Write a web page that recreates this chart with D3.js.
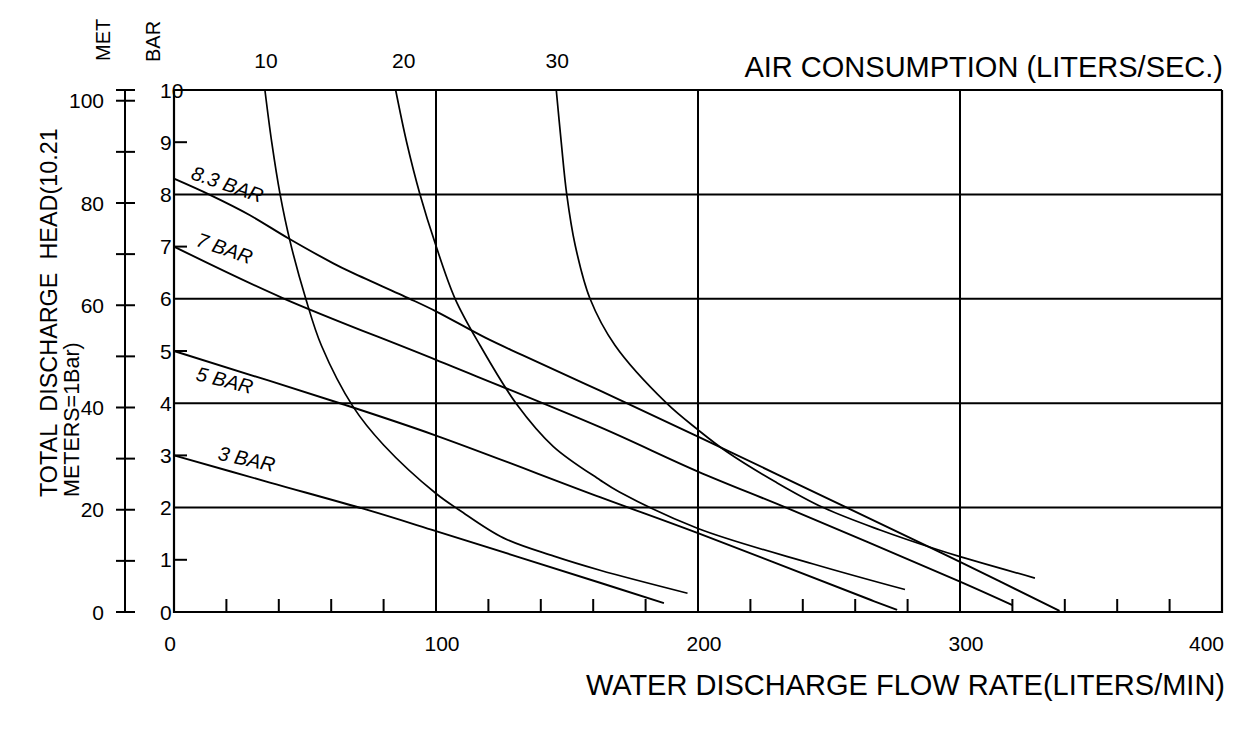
<!DOCTYPE html>
<html>
<head>
<meta charset="utf-8">
<script src="https://cdn.jsdelivr.net/npm/d3@7/dist/d3.min.js"></script>
<style>
  body { margin: 0; background: #fff; }
  text { font-family: "Liberation Sans", Arial, sans-serif; fill: #000; }
</style>
</head>
<body>
<svg id="chart" width="1248" height="735"></svg>
<script>
// flow (L/min) vs head (bar)
var curve83 = [[0,8.3],[13.7,7.99],[29,7.6],[43.6,7.16],[60.8,6.68],[67.2,6.52],[90,6.0],[100,5.76],[119,5.25],[133,4.92],[162.6,4.24],[200,3.36],[258,1.97],[300,0.96],[338,0.02]];
var curve7  = [[0,7.0],[41.7,6.01],[100,4.83],[162.6,3.54],[200,2.69],[235,1.97],[300,0.58],[320,0.13]];
var curve5  = [[0,5.0],[64.5,3.98],[100,3.38],[162.6,2.2],[200,1.51],[266,0.23],[276,0.04]];
var curve3  = [[0,3.0],[36.6,2.48],[73.5,1.96],[100,1.55],[162.6,0.56],[187,0.17]];
var pressureCurves = [curve83, curve7, curve5, curve3];
var pressureNames = ["8.3 BAR", "7 BAR", "5 BAR", "3 BAR"];

// air consumption lines (liters/sec)
var air10 = [[34.7,10],[37.3,9],[40.5,8],[44.3,7.1],[50.3,6.0],[56.3,5.1],[68.4,3.93],[80,3.2],[100,2.27],[109,1.95],[125.7,1.42],[145,1.07],[162.6,0.8],[196,0.36]];
var air20 = [[84.6,10],[88.8,9],[93.9,8],[99.9,7.03],[107.3,6.0],[116.8,5.11],[130.8,3.98],[144.8,3.17],[162.6,2.53],[170,2.3],[200,1.6],[244,0.92],[279,0.43]];
var air30 = [[145.9,10],[147.8,9],[149.9,8],[153.1,7.03],[158.8,6.0],[168.3,5.11],[188,4.0],[200,3.49],[211,3.07],[230,2.48],[247.8,2.0],[269.5,1.57],[289.8,1.22],[300,1.06],[328.6,0.65]];
var airCurves = [air10, air20, air30];
var airNames = ["10", "20", "30"];

var flowLabels = [0, 100, 200, 300, 400];
var flowGrid = [100, 200, 300];
var barLabels = [0,1,2,3,4,5,6,7,8,9,10];
var barGrid = [2, 4, 6, 8, 10];
var barTicks = [1, 3, 5, 7, 9];
var metLabels = [0, 20, 40, 60, 80, 100];
var metTicks = [0,10,20,30,40,50,60,70,80,90,100];

var pl = 174, pr = 1222, pt = 90, pb = 612;
var svg = d3.select("#chart");

var x = d3.scaleLinear().domain([0, 400]).range([pl, pr]);
var yBar = d3.scaleLinear().domain([0, 10]).range([pb, pt]);
var yMet = d3.scaleLinear().domain([0, 102.1]).range([pb, pt]);

// grid
svg.selectAll(".hgrid").data(barGrid).enter().append("line")
    .attr("x1", pl).attr("x2", pr)
    .attr("y1", function(d) { return yBar(d); }).attr("y2", function(d) { return yBar(d); })
    .attr("stroke", "#000").attr("stroke-width", 2);
svg.selectAll(".vgrid").data(flowGrid).enter().append("line")
    .attr("x1", function(d) { return x(d); }).attr("x2", function(d) { return x(d); })
    .attr("y1", pt).attr("y2", pb)
    .attr("stroke", "#000").attr("stroke-width", 2);

// frame: left, bottom, right
svg.append("path")
    .attr("d", "M" + pl + "," + pt + "V" + pb + "H" + pr + "V" + pt)
    .attr("fill", "none").attr("stroke", "#000").attr("stroke-width", 2.2);

// minor x ticks every 20
var minor = d3.range(20, 400, 20).filter(function(d) { return d % 100 != 0; });
svg.selectAll(".xt").data(minor).enter().append("line")
    .attr("x1", function(d) { return x(d); }).attr("x2", function(d) { return x(d); })
    .attr("y1", pb).attr("y2", pb - 13)
    .attr("stroke", "#000").attr("stroke-width", 2);

// bar ticks inside
svg.selectAll(".bt").data(barTicks).enter().append("line")
    .attr("x1", pl).attr("x2", pl + 13)
    .attr("y1", function(d) { return yBar(d); }).attr("y2", function(d) { return yBar(d); })
    .attr("stroke", "#000").attr("stroke-width", 2);

svg.selectAll(".bl").data(barLabels).enter().append("text")
    .attr("x", 160).attr("y", function(d) { return yBar(d); })
    .attr("dy", "0.36em").attr("font-size", 21)
    .text(function(d) { return d; });

// metres axis
var metX = 125;
svg.append("line").attr("x1", metX).attr("x2", metX)
    .attr("y1", yMet(102.1)).attr("y2", yMet(0))
    .attr("stroke", "#000").attr("stroke-width", 2);
svg.selectAll(".mt").data(metTicks.concat([102.1])).enter().append("line")
    .attr("x1", metX - 9).attr("x2", metX + 10)
    .attr("y1", function(d) { return yMet(d); }).attr("y2", function(d) { return yMet(d); })
    .attr("stroke", "#000").attr("stroke-width", 2);
svg.selectAll(".ml").data(metLabels).enter().append("text")
    .attr("x", 104).attr("y", function(d) { return yMet(d); })
    .attr("dy", "0.36em").attr("text-anchor", "end").attr("font-size", 21)
    .text(function(d) { return d; });

// x tick labels
svg.selectAll(".xl").data(flowLabels).enter().append("text")
    .attr("x", function(d) { return d == 400 ? x(d) + 2 : x(d) + (d == 0 ? -4 : 6); })
    .attr("y", 651)
    .attr("text-anchor", function(d) { return d == 400 ? "end" : "middle"; })
    .attr("font-size", 21)
    .text(function(d) { return d; });

// curves
var line = d3.line()
    .x(function(d) { return x(d[0]); })
    .y(function(d) { return yBar(d[1]); })
    .curve(d3.curveCatmullRom.alpha(0.5));

svg.selectAll(".air").data(airCurves).enter().append("path")
    .attr("d", line).attr("fill", "none")
    .attr("stroke", "#000").attr("stroke-width", 1.7);
svg.selectAll(".pc").data(pressureCurves).enter().append("path")
    .attr("d", line).attr("fill", "none")
    .attr("stroke", "#000").attr("stroke-width", 1.9);

// pressure labels (offset from each curve's start)
var labelPos = [[16, 0, 19], [21, -1, 19], [21, 29, 14], [43, 4, 12.5]];
pressureNames.forEach(function(name, i) {
    var c = pressureCurves[i][0], p = labelPos[i];
    var lx = x(c[0]) + p[0], ly = yBar(c[1]) + p[1];
    svg.append("text")
        .attr("transform", "translate(" + lx + "," + ly + ") rotate(" + p[2] + ")")
        .attr("font-size", 20).attr("font-style", "italic")
        .text(name);
});

// air labels at top of each air line
airNames.forEach(function(name, i) {
    svg.append("text")
        .attr("x", x(airCurves[i][0][0]) + (i == 1 ? 8 : 1)).attr("y", 68)
        .attr("text-anchor", "middle").attr("font-size", 21)
        .text(name);
});

// titles
svg.append("text").attr("x", 1223).attr("y", 77)
    .attr("text-anchor", "end").attr("font-size", 29)
    .text("AIR CONSUMPTION (LITERS/SEC.)");
svg.append("text").attr("x", 1225).attr("y", 695)
    .attr("text-anchor", "end").attr("font-size", 29)
    .text("WATER DISCHARGE FLOW RATE(LITERS/MIN)");

svg.append("text").attr("transform", "translate(57,497) rotate(-90)")
    .attr("font-size", 23.4)
    .style("white-space", "pre")
    .text("TOTAL  DISCHARGE  HEAD(10.21");
svg.append("text").attr("transform", "translate(79,497) rotate(-90)")
    .attr("font-size", 21.5)
    .text("METERS=1Bar)");

svg.append("text").attr("transform", "translate(110,61) rotate(-90)")
    .attr("font-size", 20).text("MET");
svg.append("text").attr("transform", "translate(160,62) rotate(-90)")
    .attr("font-size", 20).text("BAR");
</script>
</body>
</html>
